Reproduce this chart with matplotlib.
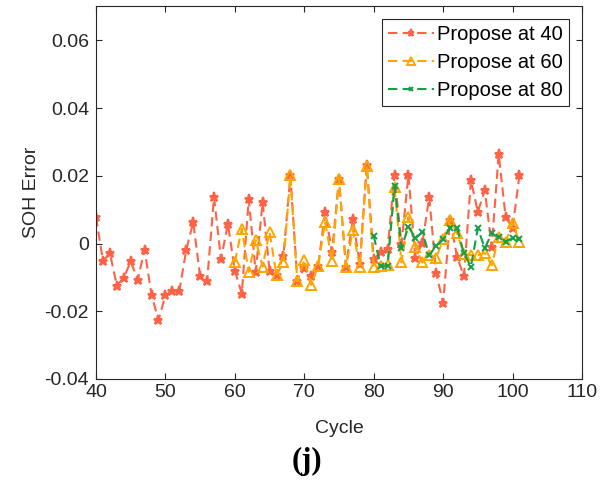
import matplotlib
matplotlib.use("Agg")
import matplotlib.pyplot as plt

plt.rcParams['font.family'] = ['Liberation Sans', 'DejaVu Sans']

cycles1 = list(range(40, 102))
err1 = [0.0078, -0.0051, -0.0029, -0.0124, -0.0101, -0.0053, -0.0107, -0.0019,
        -0.0152, -0.0226, -0.0153, -0.0140, -0.0140, -0.0019, 0.0063, -0.0097,
        -0.0112, 0.0137, -0.0046, 0.0058, -0.0080, -0.0148, 0.0131, -0.0084,
        0.0122, -0.0081, -0.0092, -0.0037, 0.0201, -0.0110, -0.0073, -0.0095,
        -0.0066, 0.0093, -0.0024, 0.0191, -0.0068, 0.0072, -0.0060, 0.0233,
        -0.0046, -0.0026, -0.0015, 0.0202, -0.0002, 0.0203, -0.0043, 0.0001,
        0.0137, -0.0088, -0.0175, 0.0070, -0.0039, -0.0097, 0.0187, 0.0093,
        0.0157, -0.0009, 0.0264, 0.0079, 0.0045, 0.0203]

cycles2 = list(range(60, 102))
err2 = [-0.0055, 0.0044, -0.0084, 0.0010, -0.0068, 0.0035, -0.0094, -0.0055,
        0.0201, -0.0112, -0.0048, -0.0122, -0.0066, 0.0064, -0.0053, 0.0191,
        -0.0070, 0.0040, -0.0070, 0.0230, -0.0069, -0.0066, -0.0062, 0.0166,
        -0.0056, 0.0078, -0.0009, -0.0056, -0.0035, -0.0042, 0.0012, 0.0070,
        0.0030, -0.0032, -0.0034, -0.0034, -0.0028, -0.0064, 0.0020, 0.0005,
        0.0061, 0.0005]

cycles3 = list(range(80, 102))
err3 = [0.0023, -0.0067, -0.0065, 0.0171, -0.0013, 0.0050, 0.0015, 0.0033,
        -0.0034, -0.0007, 0.0012, 0.0047, 0.0045, -0.0029, -0.0068, 0.0045,
        -0.0014, 0.0030, 0.0018, 0.0005, 0.0017, 0.0012]

labels = ['Propose at 40', 'Propose at 60', 'Propose at 80']
xticks = [40, 50, 60, 70, 80, 90, 100, 110]
yticks = [-0.04, -0.02, 0, 0.02, 0.04, 0.06]
ytick_labels = ['-0.04', '-0.02', '0', '0.02', '0.04', '0.06']

fig = plt.figure(figsize=(6.08, 4.94), dpi=100)
ax = fig.add_axes([0.1579, 0.2328, 0.7993, 0.7542])

c1, c2, c3 = '#FF6347', '#FFA500', '#13A04A'
dash = (0, (4.5, 2.5))
ax.plot(cycles1, err1, linestyle=dash, color=c1, lw=1.5, marker='*', ms=6.5, mew=1.5,
        mfc=c1, mec=c1, label=labels[0], zorder=2)
ax.plot(cycles2, err2, linestyle=dash, color=c2, lw=1.5, marker='^', ms=6.5, mew=1.4,
        mfc='none', mec=c2, label=labels[1], zorder=3)
ax.plot(cycles3, err3, linestyle=dash, color=c3, lw=1.5, marker='x', ms=4, mew=1.4,
        mec=c3, label=labels[2], zorder=4)

ax.set_xlim(40, 110)
ax.set_ylim(-0.04, 0.07)
ax.set_xticks(xticks)
ax.set_xticklabels([str(t) for t in xticks])
ax.set_yticks(yticks)
ax.set_yticklabels(ytick_labels)
ax.tick_params(direction='in', length=4, width=0.8, labelsize=14,
               top=True, right=True, colors='#262626', labelcolor='#262626')
ax.tick_params(axis='y', pad=5)
for s in ax.spines.values():
    s.set_linewidth(0.8)
    s.set_color('#262626')

ax.set_xlabel('Cycle', fontsize=14, color='#262626', labelpad=14)
ax.set_ylabel('SOH Error', fontsize=14, color='#262626', labelpad=3)

leg = ax.legend(loc='upper right', bbox_to_anchor=(0.973, 0.966), borderaxespad=0,
                fontsize=14.5, handlelength=2.3, handletextpad=0.15,
                labelspacing=0.45, borderpad=0.3, fancybox=False,
                framealpha=1, edgecolor='#262626', markerscale=0.8)
leg.get_frame().set_linewidth(0.8)

fig.text(0.505, 0.065, '(j)', ha='center', va='center', fontsize=22,
         fontweight='bold', family=['Liberation Serif', 'DejaVu Serif'])

fig.savefig('out.png', dpi=100)
